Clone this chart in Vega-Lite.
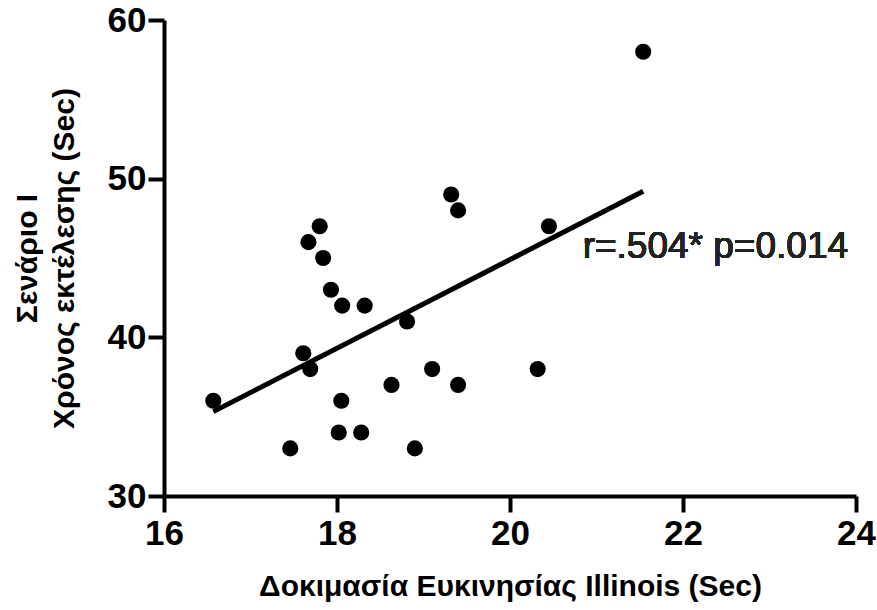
{
  "$schema": "https://vega.github.io/schema/vega-lite/v6.json",
  "autosize": {"type": "none"},
  "padding": {"left": 164, "top": 20, "right": 21, "bottom": 114},
  "width": 692,
  "height": 476,
  "background": "white",
  "config": {
    "view": {"stroke": null},
    "axis": {
      "grid": false,
      "domainColor": "black",
      "domainWidth": 4,
      "tickColor": "black",
      "tickWidth": 4,
      "tickSize": 16,
      "labelFlush": false,
      "labelOverlap": false,
      "labelFont": "Liberation Sans",
      "labelFontWeight": "bold",
      "labelFontSize": 35,
      "labelColor": "black",
      "titleFont": "Liberation Sans",
      "titleFontWeight": "bold",
      "titleFontSize": 30,
      "titleColor": "black",
      "format": "d"
    }
  },
  "data": {
    "values": [
      {"agility": 16.57, "time": 36},
      {"agility": 17.46, "time": 33},
      {"agility": 17.80, "time": 47},
      {"agility": 17.67, "time": 46},
      {"agility": 17.84, "time": 45},
      {"agility": 17.93, "time": 43},
      {"agility": 18.06, "time": 42},
      {"agility": 18.32, "time": 42},
      {"agility": 18.81, "time": 41},
      {"agility": 17.61, "time": 39},
      {"agility": 17.69, "time": 38},
      {"agility": 18.05, "time": 36},
      {"agility": 18.63, "time": 37},
      {"agility": 19.10, "time": 38},
      {"agility": 18.02, "time": 34},
      {"agility": 18.28, "time": 34},
      {"agility": 18.90, "time": 33},
      {"agility": 19.32, "time": 49},
      {"agility": 19.40, "time": 48},
      {"agility": 20.45, "time": 47},
      {"agility": 19.40, "time": 37},
      {"agility": 20.32, "time": 38},
      {"agility": 21.54, "time": 58}
    ]
  },
  "layer": [
    {
      "mark": {"type": "circle", "size": 260, "color": "black", "opacity": 1},
      "encoding": {
        "x": {
          "field": "agility", "type": "quantitative",
          "scale": {"domain": [16, 24], "nice": false, "zero": false},
          "axis": {"values": [16, 18, 20, 22, 24], "labelPadding": 4, "titlePadding": 20,
                   "title": "Δοκιμασία Ευκινησίας Illinois (Sec)"}
        },
        "y": {
          "field": "time", "type": "quantitative",
          "scale": {"domain": [30, 60], "nice": false, "zero": false},
          "axis": {"values": [30, 40, 50, 60], "labelPadding": 2, "titlePadding": 28, "titleLineHeight": 37,
                   "title": ["Σενάριο I", "Χρόνος εκτέλεσης (Sec)"]}
        }
      }
    },
    {
      "transform": [{"regression": "time", "on": "agility"}],
      "mark": {"type": "line", "color": "black", "strokeWidth": 5},
      "encoding": {
        "x": {"field": "agility", "type": "quantitative"},
        "y": {"field": "time", "type": "quantitative"}
      }
    },
    {
      "mark": {"type": "text", "align": "left", "baseline": "middle", "font": "Liberation Sans", "fontSize": 37, "color": "#222"},
      "encoding": {
        "x": {"datum": 20.84},
        "y": {"datum": 45.7},
        "text": {"value": "r=.504* p=0.014"}
      }
    }
  ]
}
